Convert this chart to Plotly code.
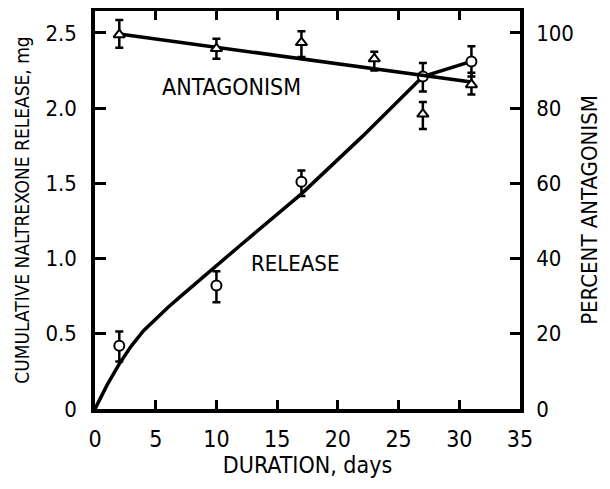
import plotly.graph_objects as go

# Data
days_release = [2, 10, 17, 27, 31]
release_mg = [0.42, 0.82, 1.51, 2.21, 2.31]
release_err_plus = [0.095, 0.095, 0.075, 0.09, 0.10]
release_err_minus = [0.105, 0.11, 0.095, 0.10, 0.10]

days_antag = [2, 10, 17, 23, 27, 31]
antag_pct = [99.5, 95.8, 97.4, 93.1, 78.4, 86.2]
antag_err_plus = [3.9, 2.6, 3.0, 1.9, 3.2, 3.2]
antag_err_minus = [3.5, 2.7, 3.8, 3.1, 4.0, 2.6]

fit_release_days = [0, 1, 2, 3, 4, 5, 6, 7, 8, 10, 12, 17, 22, 27, 31]
fit_release_mg = [0, 0.16, 0.30, 0.42, 0.52, 0.60, 0.675, 0.745, 0.815, 0.95, 1.09,
                  1.43, 1.81, 2.21, 2.31]

fit_antag_days = [2, 31]
fit_antag_pct = [99.7, 86.9]

x_ticks = [0, 5, 10, 15, 20, 25, 30, 35]
y_ticks = [0, 0.5, 1.0, 1.5, 2.0, 2.5]
y_tick_labels = ["0", "0.5", "1.0", "1.5", "2.0", "2.5"]
y2_ticks = [0, 20, 40, 60, 80, 100]

FONT = "Liberation Sans Narrow, DejaVu Sans Condensed, Arial Narrow, Roboto, sans-serif"

fig = go.Figure()

fig.add_trace(go.Scatter(x=fit_release_days, y=fit_release_mg, mode="lines",
                         line=dict(color="black", width=3.5, shape="linear"),
                         showlegend=False, hoverinfo="skip"))
fig.add_trace(go.Scatter(x=days_release, y=release_mg, mode="markers",
                         marker=dict(symbol="circle", size=10, color="white",
                                     line=dict(color="black", width=2)),
                         error_y=dict(type="data", array=release_err_plus,
                                      arrayminus=release_err_minus, color="black",
                                      thickness=2.5, width=4),
                         showlegend=False))

fig.add_trace(go.Scatter(x=fit_antag_days, y=fit_antag_pct, mode="lines", yaxis="y2",
                         line=dict(color="black", width=3.5),
                         showlegend=False, hoverinfo="skip"))
fig.add_trace(go.Scatter(x=days_antag, y=antag_pct, mode="markers", yaxis="y2",
                         marker=dict(symbol="triangle-up", size=10, color="white",
                                     line=dict(color="black", width=2)),
                         error_y=dict(type="data", array=antag_err_plus,
                                      arrayminus=antag_err_minus, color="black",
                                      thickness=2.5, width=4),
                         showlegend=False))

fig.add_annotation(x=11.2, y=2.14, xref="x", yref="y", text="ANTAGONISM", showarrow=False,
                   font=dict(size=23, color="black", family=FONT))
fig.add_annotation(x=16.5, y=0.97, xref="x", yref="y", text="RELEASE", showarrow=False,
                   font=dict(size=22, color="black", family=FONT))

fig.update_layout(
    width=610, height=489,
    margin=dict(l=87, r=98, t=3, b=88),
    plot_bgcolor="white", paper_bgcolor="white",
    font=dict(family=FONT, size=22, color="black"),
    xaxis=dict(range=[0, 35], tickvals=x_ticks, ticks="inside", ticklen=9, tickwidth=2.5,
               tickcolor="black", showline=True, linecolor="black", linewidth=3.5,
               mirror="ticks", showgrid=False, zeroline=False, automargin=False,
               tickfont=dict(size=23), ticklabelstandoff=7,
               title=dict(text="DURATION, days", font=dict(size=23), standoff=5)),
    yaxis=dict(range=[0, 2.645], tickvals=y_ticks, ticktext=y_tick_labels,
               ticks="inside", ticklen=11, tickwidth=2.5, tickcolor="black",
               showline=True, linecolor="black", linewidth=3.5, showgrid=False,
               zeroline=False, automargin=False, tickfont=dict(size=22),
               ticklabelstandoff=10,
               title=dict(text="CUMULATIVE NALTREXONE RELEASE, mg", font=dict(size=19), standoff=12)),
    yaxis2=dict(range=[0, 105.8], tickvals=y2_ticks, overlaying="y", side="right",
                ticks="inside", ticklen=10, tickwidth=2.5, tickcolor="black",
                showline=True, linecolor="black", linewidth=3.5, showgrid=False,
                zeroline=False, automargin=False, tickfont=dict(size=22),
                ticklabelstandoff=8,
                title=dict(text="PERCENT ANTAGONISM", font=dict(size=22), standoff=10)),
)

fig.write_html("out.html")
